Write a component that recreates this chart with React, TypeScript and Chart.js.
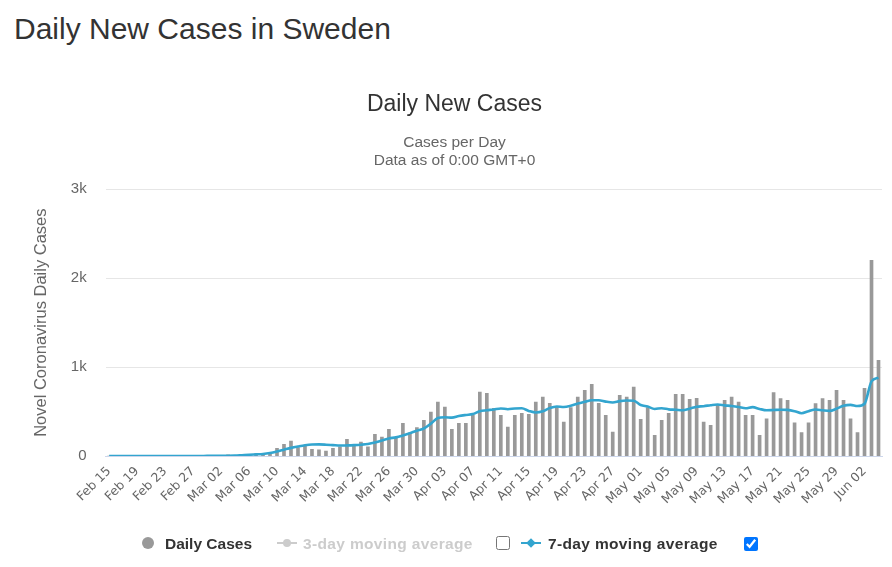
import React, { useEffect, useRef } from "react";
import { Chart, registerables } from "chart.js";

Chart.register(...registerables);

const dates: string[] = [
  "Feb 15","Feb 16","Feb 17","Feb 18","Feb 19","Feb 20","Feb 21","Feb 22","Feb 23","Feb 24","Feb 25","Feb 26","Feb 27","Feb 28","Feb 29",
  "Mar 01","Mar 02","Mar 03","Mar 04","Mar 05","Mar 06","Mar 07","Mar 08","Mar 09","Mar 10","Mar 11","Mar 12","Mar 13","Mar 14","Mar 15","Mar 16","Mar 17","Mar 18","Mar 19","Mar 20","Mar 21","Mar 22","Mar 23","Mar 24","Mar 25","Mar 26","Mar 27","Mar 28","Mar 29","Mar 30","Mar 31",
  "Apr 01","Apr 02","Apr 03","Apr 04","Apr 05","Apr 06","Apr 07","Apr 08","Apr 09","Apr 10","Apr 11","Apr 12","Apr 13","Apr 14","Apr 15","Apr 16","Apr 17","Apr 18","Apr 19","Apr 20","Apr 21","Apr 22","Apr 23","Apr 24","Apr 25","Apr 26","Apr 27","Apr 28","Apr 29","Apr 30",
  "May 01","May 02","May 03","May 04","May 05","May 06","May 07","May 08","May 09","May 10","May 11","May 12","May 13","May 14","May 15","May 16","May 17","May 18","May 19","May 20","May 21","May 22","May 23","May 24","May 25","May 26","May 27","May 28","May 29","May 30","May 31",
  "Jun 01","Jun 02","Jun 03","Jun 04",
];

const dailyCases: number[] = [
  0,0,0,0,0,0,0,0,0,0,0,1,1,5,2,
  4,1,15,7,20,15,26,19,30,86,131,169,94,113,75,71,56,86,105,188,113,158,105,244,214,300,206,368,260,319,401,
  495,608,551,300,368,368,458,720,705,536,458,326,458,480,469,608,664,593,555,383,544,664,739,806,593,458,270,683,664,776,
  413,544,233,401,480,694,694,638,649,383,345,570,626,664,608,458,458,233,420,713,645,626,375,263,375,589,645,626,739,626,420,
  263,761,2200,1076,
];

const movingAvg7: number[] = [
  0,0,0,0,0,0,0,0,0,0,0,0,1,1,2,
  2,3,4,6,10,14,19,24,35,52,72,92,108,122,130,131,128,123,118,120,123,128,136,152,175,198,210,232,258,285,310,
  365,428,436,432,450,462,472,505,515,524,535,527,535,537,508,490,503,540,558,551,565,590,610,628,627,612,603,618,624,622,
  574,556,530,538,525,521,515,533,555,561,572,580,570,563,552,537,550,530,515,518,521,519,505,482,505,524,515,508,532,565,575,
  563,588,840,881,
];

const yTickValues: number[] = [0, 1000, 2000, 3000];
const yTickLabels: string[] = ["0", "1k", "2k", "3k"];

const BAR_COLOR = "#999999";
const LINE_COLOR = "#33a5cf";
const FONT = "Liberation Sans, Arial, sans-serif";

export default function App() {
  const ref = useRef<HTMLCanvasElement | null>(null);

  useEffect(() => {
    if (!ref.current) return;
    const chart = new Chart(ref.current, {
      type: "bar",
      data: {
        labels: dates,
        datasets: [
          {
            type: "line",
            label: "7-day moving average",
            data: movingAvg7,
            borderColor: LINE_COLOR,
            backgroundColor: LINE_COLOR,
            borderWidth: 2.6,
            pointRadius: 0,
            cubicInterpolationMode: "monotone",
            order: 0,
          } as any,
          {
            type: "bar",
            label: "Daily Cases",
            data: dailyCases,
            backgroundColor: BAR_COLOR,
            barThickness: 3,
            order: 1,
          },
        ],
      },
      options: {
        responsive: false,
        animation: false,
        layout: { padding: { left: 27, right: 10, top: 0, bottom: 25 } },
        plugins: {
          legend: { display: false },
          tooltip: { enabled: false },
          title: {
            display: true,
            text: "Daily New Cases",
            color: "#333333",
            font: { family: FONT, size: 23, weight: "normal" },
            padding: { top: 31, bottom: 15 },
          },
          subtitle: {
            display: true,
            text: ["Cases per Day", "Data as of 0:00 GMT+0"],
            color: "#666666",
            font: { family: FONT, size: 15.5, lineHeight: 1.15 },
            padding: { top: 0, bottom: 20 },
          },
        },
        scales: {
          x: {
            offset: true,
            grid: { display: false, drawTicks: false },
            border: { display: true, color: "#ccd6eb", width: 1 },
            afterFit: (scale: any) => {
              scale.paddingRight = 0;
            },
            ticks: {
              autoSkip: false,
              maxRotation: 45,
              minRotation: 45,
              padding: 8,
              color: "#666666",
              font: { family: "DejaVu Sans, sans-serif", size: 12.5 },
              callback: (_v: any, i: number) => (i % 4 === 0 ? dates[i] : ""),
            },
          },
          y: {
            min: 0,
            max: 3000,
            grid: { color: "#e6e6e6", drawTicks: false },
            border: { display: false },
            ticks: {
              stepSize: 1000,
              padding: 19,
              color: "#666666",
              font: { family: FONT, size: 15 },
              callback: (v: any) => {
                const k = yTickValues.indexOf(Number(v));
                return k >= 0 ? yTickLabels[k] : "";
              },
            },
            title: {
              display: true,
              text: "Novel Coronavirus Daily Cases",
              color: "#666666",
              font: { family: FONT, size: 16.5 },
              padding: { top: 5, bottom: 0 },
            },
          },
        },
      } as any,
    });
    return () => chart.destroy();
  }, []);

  const legendFont: React.CSSProperties = {
    position: "absolute",
    top: 534,
    fontFamily: FONT,
    fontWeight: "bold",
    fontSize: 15.5,
    lineHeight: "20px",
    whiteSpace: "nowrap",
  };

  return (
    <div style={{ position: "absolute", left: 0, top: 0, width: 892, height: 567, background: "#ffffff", overflow: "hidden" }}>
      <div
        style={{
          position: "absolute",
          left: 14,
          top: 11,
          fontFamily: FONT,
          fontSize: 30,
          lineHeight: "36px",
          color: "#333333",
          whiteSpace: "nowrap",
        }}
      >
        Daily New Cases in Sweden
      </div>
      <canvas ref={ref} width={892} height={480} style={{ position: "absolute", left: 0, top: 60, width: 892, height: 480 }} />
      <div style={{ position: "absolute", left: 142, top: 537, width: 12, height: 12, borderRadius: 6, background: BAR_COLOR }} />
      <div style={{ ...legendFont, left: 165, color: "#333333" }}>Daily Cases</div>
      <div style={{ position: "absolute", left: 277, top: 542, width: 20, height: 2, background: "#cccccc" }} />
      <div style={{ position: "absolute", left: 283, top: 539, width: 8, height: 8, borderRadius: 4, background: "#cccccc" }} />
      <div style={{ ...legendFont, left: 303, color: "#cccccc", letterSpacing: 0.35 }}>3-day moving average</div>
      <input type="checkbox" readOnly style={{ position: "absolute", left: 496, top: 536, width: 14, height: 14, margin: 0 }} />
      <div style={{ position: "absolute", left: 521, top: 542, width: 20, height: 2, background: LINE_COLOR }} />
      <div style={{ position: "absolute", left: 527, top: 539, width: 8, height: 8, background: LINE_COLOR, transform: "rotate(45deg) scale(0.85)" }} />
      <div style={{ ...legendFont, left: 548, color: "#333333", letterSpacing: 0.35 }}>7-day moving average</div>
      <input type="checkbox" checked readOnly style={{ position: "absolute", left: 744, top: 537, width: 14, height: 14, margin: 0 }} />
    </div>
  );
}
